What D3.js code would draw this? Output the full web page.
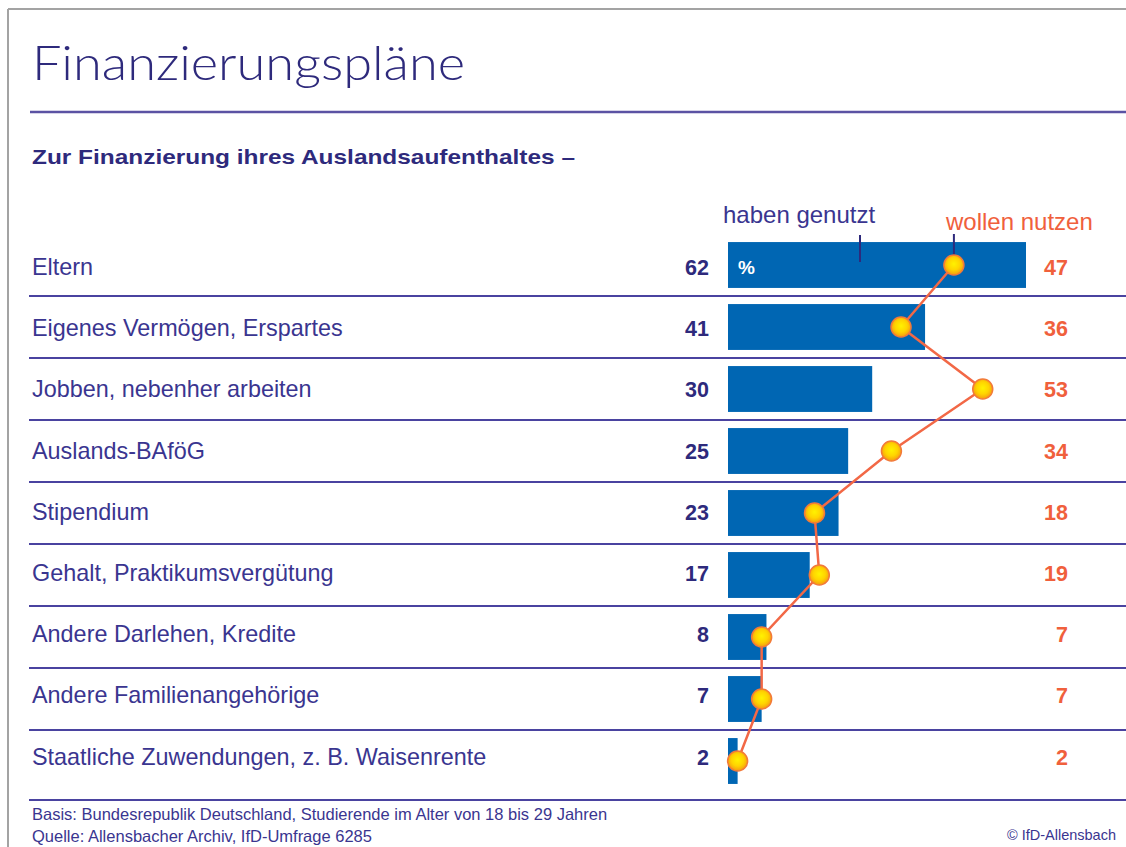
<!DOCTYPE html>
<html><head><meta charset="utf-8">
<script src="https://cdn.jsdelivr.net/npm/d3@7"></script>
<style>
html,body{margin:0;padding:0;background:#fff;}
svg{display:block;}
text{font-family:"Liberation Sans",Arial,sans-serif;}
</style></head>
<body>
<svg id="chart" width="1126" height="847"></svg>
<script>
const categories = [
  "Eltern",
  "Eigenes Vermögen, Erspartes",
  "Jobben, nebenher arbeiten",
  "Auslands-BAföG",
  "Stipendium",
  "Gehalt, Praktikumsvergütung",
  "Andere Darlehen, Kredite",
  "Andere Familienangehörige",
  "Staatliche Zuwendungen, z. B. Waisenrente"
];
const habenGenutzt = [62, 41, 30, 25, 23, 17, 8, 7, 2];
const wollenNutzen = [47, 36, 53, 34, 18, 19, 7, 7, 2];
const seriesNames = ["haben genutzt", "wollen nutzen"];
const titleText = "Finanzierungspläne";
const subtitleText = "Zur Finanzierung ihres Auslandsaufenthaltes –";
const footnotes = [
  "Basis: Bundesrepublik Deutschland, Studierende im Alter von 18 bis 29 Jahren",
  "Quelle: Allensbacher Archiv, IfD-Umfrage 6285"
];
const copyrightText = "© IfD-Allensbach";

const C = {
  title: "#2e2a7c",
  text: "#3a3590",
  rule: "#4a43a0",
  bar: "#0066b3",
  orange: "#f0603c",
  line: "#f26846",
  frame: "#a3a3a3"
};

const svg = d3.select("#chart");
const data = categories.map((c, i) => ({cat: c, a: habenGenutzt[i], b: wollenNutzen[i]}));

// frame
svg.append("line").attr("x1", 8).attr("x2", 1126).attr("y1", 9).attr("y2", 9)
  .attr("stroke", C.frame).attr("stroke-width", 2);
svg.append("line").attr("x1", 8).attr("x2", 8).attr("y1", 9).attr("y2", 847)
  .attr("stroke", C.frame).attr("stroke-width", 2);

// title
svg.append("text").attr("x", 32).attr("y", 80).text(titleText)
  .attr("fill", C.title).attr("font-size", 47)
  .style("font-family", "Lato, 'Liberation Sans', sans-serif").attr("font-weight", 300)
  .attr("textLength", 433).attr("lengthAdjust", "spacingAndGlyphs");
svg.append("line").attr("x1", 30).attr("x2", 1126).attr("y1", 112).attr("y2", 112)
  .attr("stroke", "#5b52a3").attr("stroke-width", 2.5);

svg.append("text").attr("x", 32).attr("y", 164).text(subtitleText)
  .attr("fill", C.title).attr("font-size", 21).attr("font-weight", "bold")
  .attr("textLength", 543).attr("lengthAdjust", "spacingAndGlyphs");

// scales
const y = d3.scaleBand().domain(categories).range([234, 792]).paddingInner(0.26).paddingOuter(0.13);
const x = d3.scaleLinear().domain([0, d3.max(habenGenutzt)]).range([728, 1026]);
const cy = d => y(d) + y.bandwidth() / 2;

// row separators
svg.append("g").selectAll("line").data(categories.slice(0, -1)).join("line")
  .attr("x1", 29).attr("x2", 1126)
  .attr("y1", d => cy(d) + y.step() / 2).attr("y2", d => cy(d) + y.step() / 2)
  .attr("stroke", C.rule).attr("stroke-width", 2);
// bottom rule
svg.append("line").attr("x1", 29).attr("x2", 1126).attr("y1", 800).attr("y2", 800)
  .attr("stroke", C.rule).attr("stroke-width", 2);

const ty = (d, i) => cy(d.cat) + 10 - i * 0.8;

// labels
svg.append("g").selectAll("text").data(data).join("text")
  .attr("x", 32).attr("y", ty)
  .attr("fill", C.text).attr("font-size", 23.4)
  .text(d => d.cat);

// left values
svg.append("g").selectAll("text").data(data).join("text")
  .attr("x", 709).attr("y", ty).attr("text-anchor", "end")
  .attr("fill", C.title).attr("font-size", 21.5).attr("font-weight", "bold")
  .text(d => d.a);

// right values
svg.append("g").selectAll("text").data(data).join("text")
  .attr("x", 1068).attr("y", ty).attr("text-anchor", "end")
  .attr("fill", C.orange).attr("font-size", 21.5).attr("font-weight", "bold")
  .text(d => d.b);

// bars
svg.append("g").selectAll("rect").data(data).join("rect")
  .attr("x", x(0)).attr("y", d => y(d.cat))
  .attr("width", d => x(d.a) - x(0)).attr("height", y.bandwidth())
  .attr("fill", C.bar);

// percent sign
svg.append("text").attr("x", x(0) + 10).attr("y", cy(categories[0]) + 9)
  .attr("fill", "#fff").attr("font-size", 19).attr("font-weight", "bold").text("%");

// legend
svg.append("text").attr("x", 723).attr("y", 223).text(seriesNames[0])
  .attr("fill", C.text).attr("font-size", 24);
svg.append("line").attr("x1", 860).attr("x2", 860).attr("y1", 235).attr("y2", 262)
  .attr("stroke", C.title).attr("stroke-width", 2);
svg.append("text").attr("x", 946).attr("y", 230).text(seriesNames[1])
  .attr("fill", C.orange).attr("font-size", 24);
svg.append("line").attr("x1", x(wollenNutzen[0])).attr("x2", x(wollenNutzen[0]))
  .attr("y1", 234).attr("y2", 258)
  .attr("stroke", C.title).attr("stroke-width", 2);

// gradient
const defs = svg.append("defs");
const grad = defs.append("radialGradient").attr("id", "dotGrad")
  .attr("cx", "50%").attr("cy", "45%").attr("r", "55%");
grad.append("stop").attr("offset", "0%").attr("stop-color", "#fff200");
grad.append("stop").attr("offset", "55%").attr("stop-color", "#ffd400");
grad.append("stop").attr("offset", "100%").attr("stop-color", "#f59a10");

// line
const lineGen = d3.line().x(d => x(d.b)).y(d => cy(d.cat));
svg.append("path").datum(data).attr("d", lineGen)
  .attr("fill", "none").attr("stroke", C.line).attr("stroke-width", 2.5);

// dots
svg.append("g").selectAll("circle").data(data).join("circle")
  .attr("cx", d => x(d.b)).attr("cy", d => cy(d.cat)).attr("r", 10)
  .attr("fill", "url(#dotGrad)").attr("stroke", "#f27a3a").attr("stroke-width", 1.5);

// footer
svg.append("g").selectAll("text").data(footnotes).join("text")
  .attr("x", 32).attr("y", (d, i) => 820 + i * 22)
  .attr("fill", C.text).attr("font-size", 16.5)
  .text(d => d);
svg.append("text").attr("x", 1116).attr("y", 840).attr("text-anchor", "end")
  .attr("fill", C.text).attr("font-size", 14.5).text(copyrightText);
</script>
</body></html>
